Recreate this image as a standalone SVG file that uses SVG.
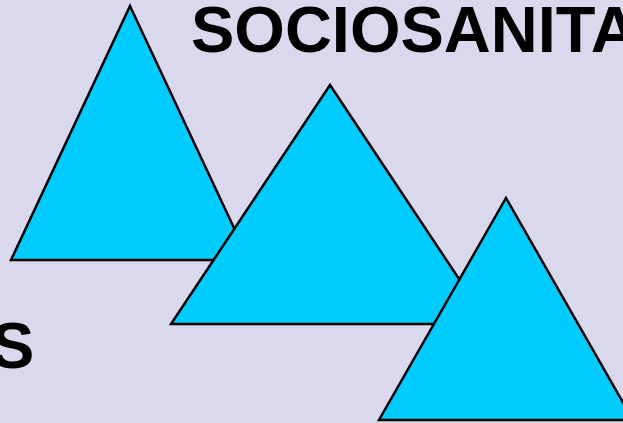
<svg xmlns="http://www.w3.org/2000/svg" width="623" height="423" viewBox="0 0 623 423">
<style>
.tri{fill:#00CCFF;stroke:#000;stroke-width:2.5;stroke-linejoin:miter}
.t{font-family:"Liberation Sans",Arial,sans-serif;font-weight:bold;font-size:65px;fill:#000}
</style>
<rect width="623" height="423" fill="#DAD8EC"/>
<g id="triangle1"><polygon class="tri" points="130,6 249,260 11,260"/></g>
<g id="triangle2"><polygon class="tri" points="330,85 489,324 171,324"/></g>
<g id="triangle3"><polygon class="tri" points="506,198 633,420 379,420"/></g>
<g id="title"><text class="t" x="191" y="52">SOCIOSANITA</text></g>
<g id="label-s"><text class="t" x="-9" y="368">S</text></g>
<g id="connectors"/>
</svg>
